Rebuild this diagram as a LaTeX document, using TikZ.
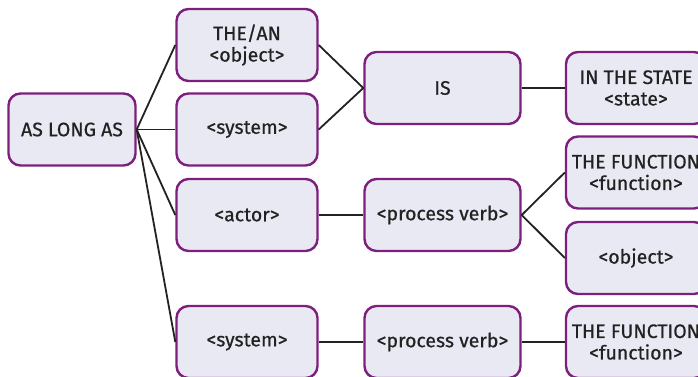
\documentclass[tikz,border=0pt]{standalone}
\usepackage{fontspec}
\setmainfont{Fira Sans}
\newfontfamily\boxfont{Fira Sans}[FakeBold=0.6]
\usepackage{tikz}
\usetikzlibrary{positioning}

\definecolor{boxfill}{HTML}{E9E9F4}
\definecolor{boxline}{HTML}{7D1F7C}
\definecolor{wire}{HTML}{222222}

\begin{document}
\begin{tikzpicture}[x=1pt,y=-1pt,
    phrase/.style={draw=boxline,line width=2.4pt,fill=boxfill,rounded corners=12pt,
        minimum height=72pt,align=center,inner sep=0pt,text=wire,
        font=\boxfont\fontsize{19.5}{21.5}\selectfont},
    link/.style={draw=wire,line width=1.8pt}]

    \useasboundingbox (0,0) rectangle (698,376);

    % first column
    \node[phrase,minimum width=127pt] (aslong) at (72,129.5) {AS LONG AS};

    % second column
    \node[phrase,minimum width=141pt] (thean) at (247,45) {THE/AN\\<object>};
    \node[phrase,minimum width=141pt] (sys) at (247,129.5) {<system>};
    \node[phrase,minimum width=141pt] (actor) at (247,215) {<actor>};
    \node[phrase,minimum width=141pt] (sysb) at (247,342) {<system>};

    % third column
    \node[phrase,minimum width=156pt] (is) at (442.5,88) {IS};
    \node[phrase,minimum width=156pt] (pverb) at (442.5,215) {<process verb>};
    \node[phrase,minimum width=156pt] (pverbb) at (442.5,342) {<process verb>};

    % fourth column
    \node[phrase,minimum width=140pt] (instate) at (636,88) {IN THE STATE\\<state>};
    \node[phrase,minimum width=140pt] (func) at (636,172.5) {THE FUNCTION\\<function>};
    \node[phrase,minimum width=140pt] (obj) at (636,258) {<object>};
    \node[phrase,minimum width=140pt] (funcb) at (636,342) {THE FUNCTION\\<function>};

    \draw[link] (aslong.east) -- (thean.west);
    \draw[link] (aslong.east) -- (sys.west);
    \draw[link] (aslong.east) -- (actor.west);
    \draw[link] (aslong.east) -- (sysb.west);

    \draw[link] (thean.east) -- (is.west);
    \draw[link] (sys.east) -- (is.west);
    \draw[link] (is.east) -- (instate.west);

    \draw[link] (actor.east) -- (pverb.west);
    \draw[link] (pverb.east) -- (func.west);
    \draw[link] (pverb.east) -- (obj.west);

    \draw[link] (sysb.east) -- (pverbb.west);
    \draw[link] (pverbb.east) -- (funcb.west);

\end{tikzpicture}
\end{document}
